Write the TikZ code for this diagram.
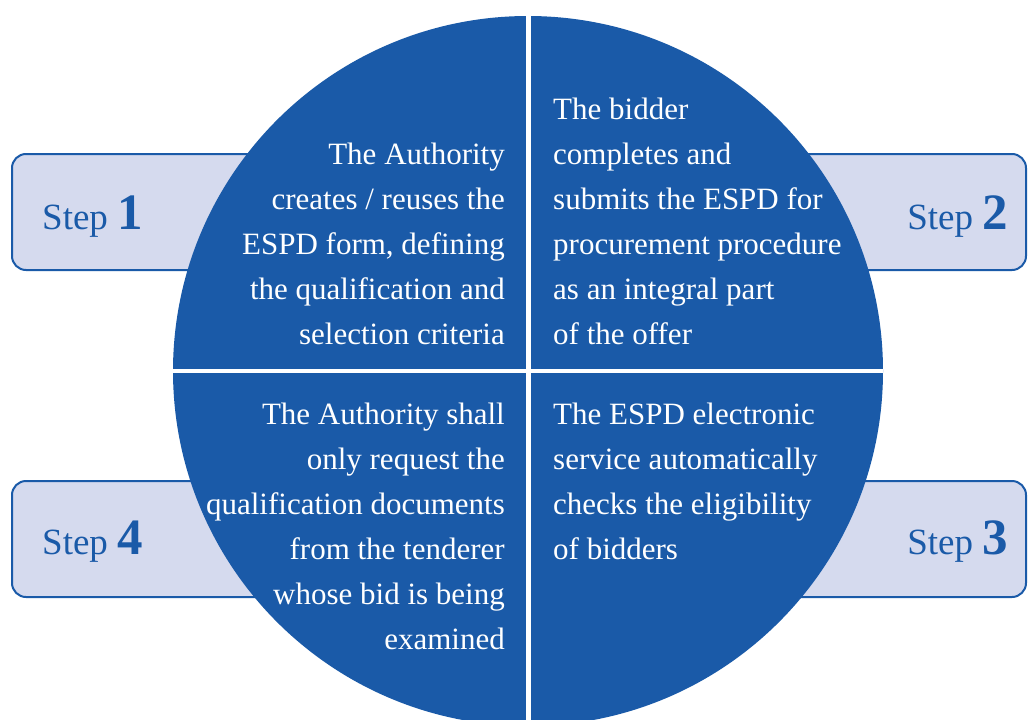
\documentclass[tikz,border=0pt]{standalone}
\usepackage{fontspec}
\setmainfont{Liberation Serif}
\usetikzlibrary{positioning}
\definecolor{espdblue}{RGB}{26,90,168}
\definecolor{steplav}{RGB}{213,218,238}

\begin{document}
\begin{tikzpicture}[x=1pt,y=-1pt,
  stepbox/.style={draw=espdblue, line width=2pt, fill=steplav, rounded corners=14pt, inner sep=0pt},
  steptext/.style={text=espdblue, font=\fontsize{37}{40}\selectfont, inner sep=0pt},
  quad/.style={text=white, font=\fontsize{31}{45}\selectfont, inner sep=0pt}]
\newcommand{\stepnum}[1]{\textbf{\fontsize{51}{51}\selectfont #1}}

\useasboundingbox (0,0) rectangle (1028,720);
\clip (0,0) rectangle (1028,720);

% Step boxes behind the disc
\node[stepbox, minimum width=318pt, minimum height=116pt] (box1) at (171,212) {};
\node[stepbox, minimum width=288pt, minimum height=116pt] (box2) at (882,212) {};
\node[stepbox, minimum width=288pt, minimum height=116pt] (box3) at (882,539) {};
\node[stepbox, minimum width=318pt, minimum height=116pt] (box4) at (171,539) {};

\node[steptext, anchor=base west] (step1) at (42,229) {Step \stepnum{1}};
\node[steptext, anchor=base east] (step2) at (1008,229) {Step \stepnum{2}};
\node[steptext, anchor=base east] (step3) at (1008,554) {Step \stepnum{3}};
\node[steptext, anchor=base west] (step4) at (42,554) {Step \stepnum{4}};

% The disc, cut in four
\node[circle, fill=espdblue, minimum size=710pt, inner sep=0pt] (disc) at (528,371) {};
\draw[white, line width=5pt] (disc.north) -- (disc.south);
\draw[white, line width=4.5pt] (disc.west) -- (disc.east);

% Quarter texts
\node[quad, align=right, anchor=north east] (q1) at (505,143)
  {The Authority\\creates / reuses the\\ESPD form, defining\\the qualification and\\selection criteria};
\node[quad, align=left, anchor=north west] (q2) at (553,98)
  {The bidder\\completes and\\submits the ESPD for\\procurement procedure\\as an integral part\\of the offer};
\node[quad, align=left, anchor=north west] (q3) at (553,403)
  {The ESPD electronic\\service automatically\\checks the eligibility\\of bidders};
\node[quad, align=right, anchor=north east] (q4) at (505,403)
  {The Authority shall\\only request the\\qualification documents\\from the tenderer\\whose bid is being\\examined};
\end{tikzpicture}
\end{document}
